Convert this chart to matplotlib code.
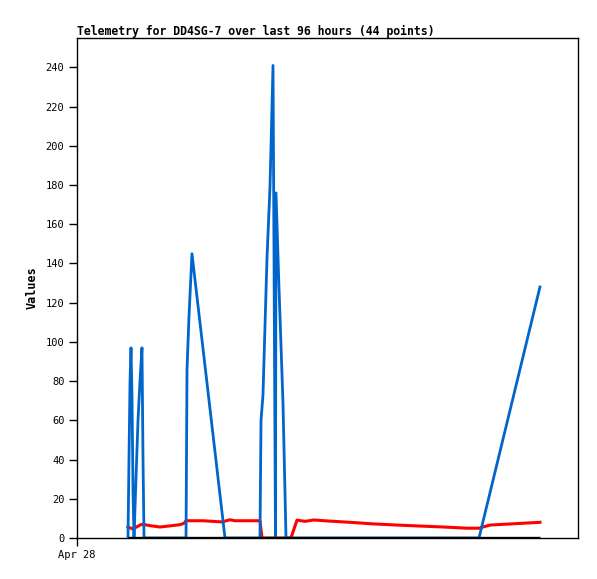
import matplotlib
matplotlib.use("Agg")
import matplotlib.pyplot as plt

# hours since the start of the window (Apr 28 00:00)
blue_t = [9.77, 9.96, 10.16, 10.35, 10.54, 10.73, 10.92, 11.30, 11.69, 12.07, 12.45,
          12.65, 12.84, 20.89, 20.98, 21.08, 21.46, 22.03, 28.36, 35.06, 35.26, 35.64,
          36.02, 36.41, 36.98, 37.56, 38.03, 38.13, 38.70, 39.47, 40.05, 77.03, 88.71]
blue_v = [0, 40, 80, 97, 72, 24, 0, 30, 60, 80, 97,
          40, 0, 0, 40, 86, 113, 145, 0, 0, 60, 73,
          108, 143, 179, 241, 0, 176, 128, 69, 0, 0, 128]

red_t = [9.77, 10.73, 12.07, 12.65, 13.99, 15.90, 18.20, 19.74, 20.50, 20.89, 24.14,
         27.78, 29.32, 30.27, 35.06, 35.45, 41.00, 42.15, 43.69, 45.41, 47.90, 52.31,
         56.72, 61.31, 65.72, 70.32, 74.73, 77.03, 77.79, 79.13, 88.71]
red_v = [5.6, 4.6, 6.6, 7.0, 6.3, 5.6, 6.3, 6.8, 7.5, 8.8, 8.8,
         8.2, 9.3, 8.8, 8.8, 0, 0, 9.1, 8.5, 9.2, 8.7, 8.0,
         7.2, 6.6, 6.1, 5.6, 5.0, 5.0, 5.6, 6.6, 8.0]

black_t = [9.77, 88.71]
black_v = [0, 0]

y_ticks = list(range(0, 241, 20))
x_ticks = [0]
x_labels = ["Apr 28"]

mono = "DejaVu Sans Mono"

fig = plt.figure(figsize=(5.97, 5.79), dpi=100)
ax = fig.add_axes([77 / 597, 41 / 579, 501 / 597, 500 / 579])

ax.plot(red_t, red_v, color="#ff0000", lw=2.2, zorder=2)
ax.plot(blue_t, blue_v, color="#0066cc", lw=2.0, zorder=3)
ax.plot(black_t, black_v, color="black", lw=2.4, zorder=4, solid_capstyle="butt")

ax.set_xlim(0, 96)
ax.set_ylim(0, 255)
ax.set_yticks(y_ticks)
ax.set_xticks(x_ticks)
ax.set_xticklabels(x_labels)
ax.tick_params(direction="out", length=6, width=1, colors="black", labelsize=7.5, pad=3)
for lab in ax.get_xticklabels() + ax.get_yticklabels():
    lab.set_family(mono)

for s in ax.spines.values():
    s.set_linewidth(1)
    s.set_color("black")

ax.set_ylabel("Values", family=mono, fontweight="bold", fontsize=8.5, labelpad=5)
ax.set_title("Telemetry for DD4SG-7 over last 96 hours (44 points)",
             family=mono, fontweight="bold", fontsize=8.3, loc="left", pad=2)

fig.savefig("out.png", dpi=100)
